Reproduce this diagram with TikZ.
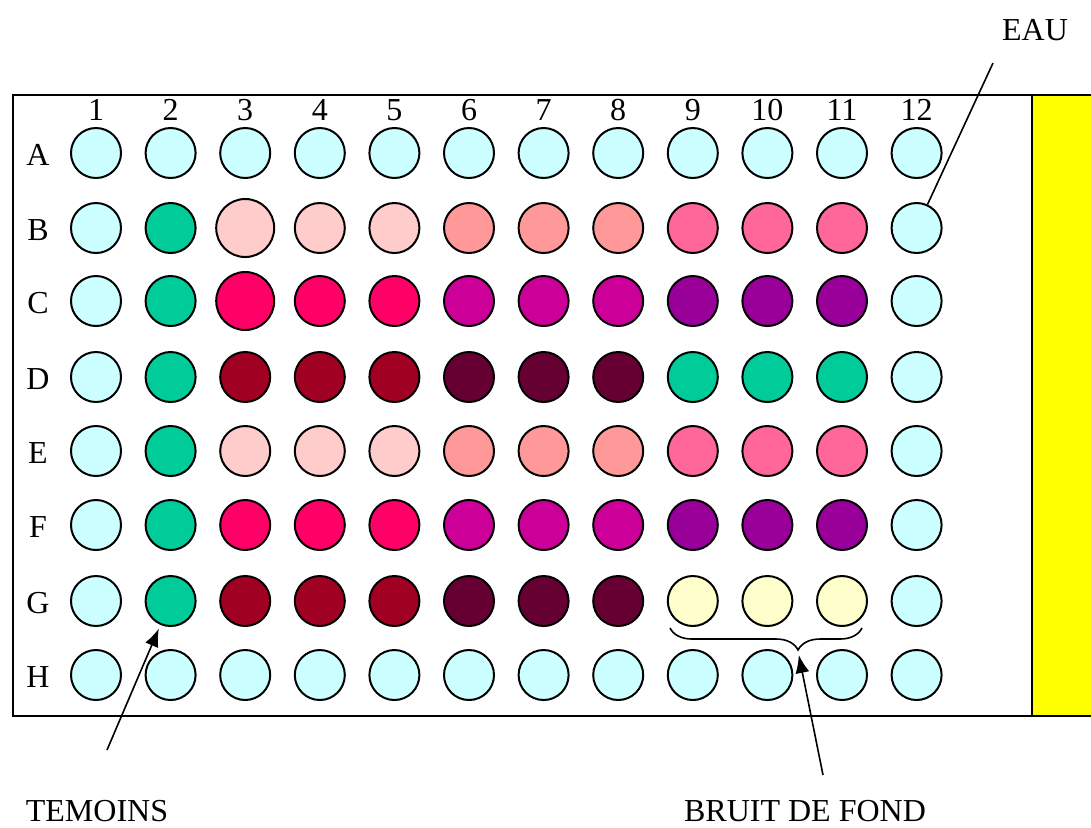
\documentclass[tikz,border=0pt]{standalone}
\usepackage{fontspec}
\setmainfont{Liberation Serif}
\usetikzlibrary{arrows.meta,decorations.pathreplacing}

\definecolor{eau}{HTML}{CCFFFF}
\definecolor{temoin}{HTML}{00CC99}
\definecolor{rose1}{HTML}{FFCCCC}
\definecolor{rose2}{HTML}{FF9999}
\definecolor{rose3}{HTML}{FF6699}
\definecolor{rouge1}{HTML}{FF0066}
\definecolor{mauve1}{HTML}{CC0099}
\definecolor{violet1}{HTML}{990099}
\definecolor{bordeaux1}{HTML}{A00021}
\definecolor{bordeaux2}{HTML}{660033}
\definecolor{bruit}{HTML}{FFFFCC}
\definecolor{bande}{HTML}{FFFF00}

\tikzset{
  well/.style={circle, draw, line width=1pt, inner sep=0pt, minimum size=25pt},
  lab/.style={font=\fontsize{16}{19}\selectfont, inner sep=0pt},
  pointer/.style={line width=0.8pt, -{Latex[length=9pt,width=7pt]}},
}

% one row of the plate: letter, y, size of well 3, fills
\newcommand{\wellrow}[4]{%
  \node[lab] (row#1) at (38,#2+2) {#1};
  \foreach \c [count=\i] in {#4} {
    \ifnum\i=3 \def\sz{#3}\else\def\sz{25pt}\fi
    \node[well, fill=\c, minimum size=\sz] (#1\i) at ({96+74.6*(\i-1)},#2) {};
  }
}

\begin{document}
\begin{tikzpicture}[x=0.5pt,y=-0.5pt]
  \useasboundingbox (0,0) rectangle (1091,827);

  % Plate and strip
  \fill[bande] (1032,95) rectangle (1091,716);
  \draw[line width=1pt] (1091,95) -- (13,95) -- (13,716) -- (1091,716);
  \draw[line width=1pt] (1032,95) -- (1032,716);

  % Column numbers
  \foreach \i in {1,...,12}
    \node[lab] (col\i) at ({96+74.6*(\i-1)},110) {\i};

  % Wells
  \wellrow{A}{153}{25pt}{eau,eau,eau,eau,eau,eau,eau,eau,eau,eau,eau,eau}
  \wellrow{B}{228}{29pt}{eau,temoin,rose1,rose1,rose1,rose2,rose2,rose2,rose3,rose3,rose3,eau}
  \wellrow{C}{301}{29pt}{eau,temoin,rouge1,rouge1,rouge1,mauve1,mauve1,mauve1,violet1,violet1,violet1,eau}
  \wellrow{D}{377}{25pt}{eau,temoin,bordeaux1,bordeaux1,bordeaux1,bordeaux2,bordeaux2,bordeaux2,temoin,temoin,temoin,eau}
  \wellrow{E}{451}{25pt}{eau,temoin,rose1,rose1,rose1,rose2,rose2,rose2,rose3,rose3,rose3,eau}
  \wellrow{F}{525}{25pt}{eau,temoin,rouge1,rouge1,rouge1,mauve1,mauve1,mauve1,violet1,violet1,violet1,eau}
  \wellrow{G}{601}{25pt}{eau,temoin,bordeaux1,bordeaux1,bordeaux1,bordeaux2,bordeaux2,bordeaux2,bruit,bruit,bruit,eau}
  \wellrow{H}{675}{25pt}{eau,eau,eau,eau,eau,eau,eau,eau,eau,eau,eau,eau}

  % Labels
  \node[lab] (eaulab) at (1035,30) {EAU};
  \node[lab] (temlab) at (97,811) {TEMOINS};
  \node[lab] (bruitlab) at (805,811) {BRUIT DE FOND};

  \coordinate (eauend) at (993,63);
  \coordinate (temend) at (107,750);
  \coordinate (bruitend) at (823,775);
  \coordinate (brtip) at (798,651);

  \draw[line width=0.8pt, decorate,
        decoration={brace, mirror, amplitude=11pt, aspect=0.667}]
    (670,628) -- (862,628);

  \draw[line width=0.8pt] (eauend) -- (B12);
  \draw[pointer, shorten >=2pt] (temend) -- (G2);
  \draw[pointer, shorten >=2pt] (bruitend) -- (brtip);
\end{tikzpicture}
\end{document}
